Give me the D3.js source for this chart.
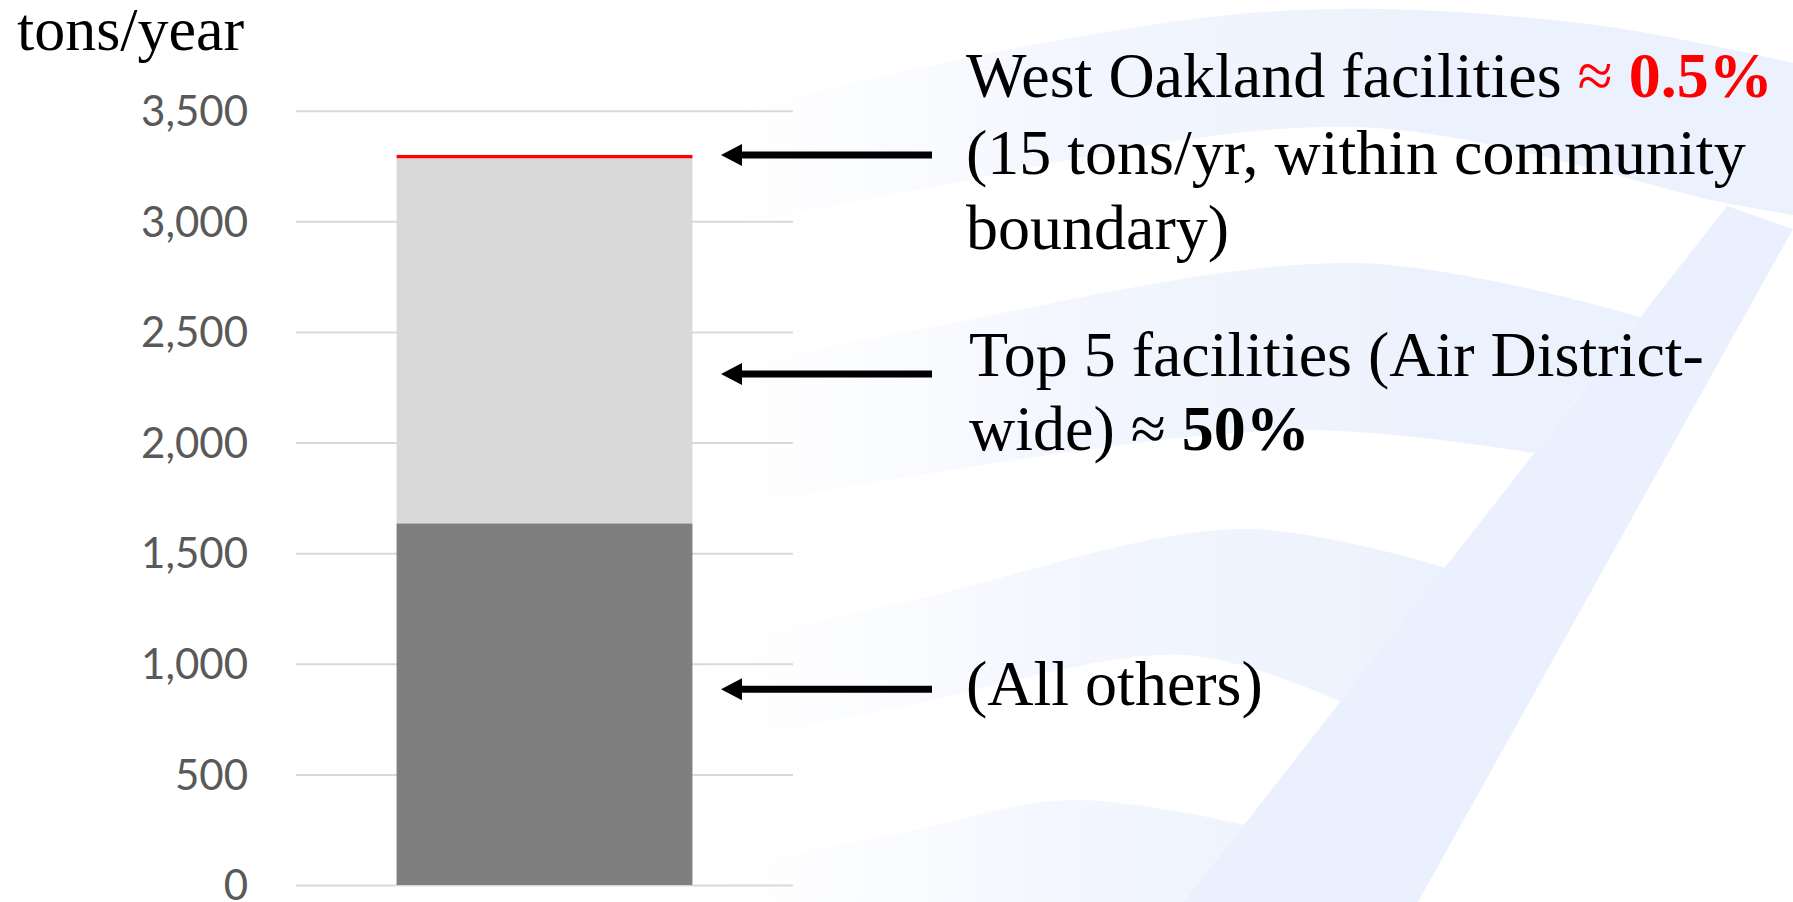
<!DOCTYPE html>
<html>
<head>
<meta charset="utf-8">
<script src="https://cdn.jsdelivr.net/npm/d3@7"></script>
<style>
  html, body { margin: 0; padding: 0; background: #ffffff; }
  svg { display: block; }
</style>
</head>
<body>
<svg id="chart" width="1793" height="902"></svg>
<script>
// ---------------- data ----------------
const segmentNames  = ["All others", "Top 5 facilities", "West Oakland facilities"];
const segmentValues = [1635, 1650, 15];          // tons/year, stacked bottom -> top
const segmentColors = ["#7f7f7f", "#d9d9d9", "#ff0000"];
const tickValues    = [0, 500, 1000, 1500, 2000, 2500, 3000, 3500];
const yUnit         = "tons/year";
const arrowTargets  = [3300, 2310, 885];         // value level each arrow points at

// ---------------- layout ----------------
const W = 1793, H = 902;
const plot = { left: 296, right: 793, top: 110.7, bottom: 885 };
const svg = d3.select("#chart");

// ---------------- background watermark (decoration) ----------------
const defs = svg.append("defs");
const grad = defs.append("linearGradient").attr("id", "fade")
  .attr("gradientUnits", "userSpaceOnUse").attr("x1", 620).attr("x2", 1500).attr("y1", 0).attr("y2", 0);
grad.append("stop").attr("offset", 0).attr("stop-color", "#ffffff").attr("stop-opacity", 0);
grad.append("stop").attr("offset", 0.5).attr("stop-color", "#f3f6fe");
grad.append("stop").attr("offset", 1).attr("stop-color", "#ebf1fd");

const bg = svg.append("g").attr("class", "bg");
const curve = d3.line().curve(d3.curveCatmullRom.alpha(0.5));
function band(top, bottom) {
  const a = curve(top);
  const b = curve(bottom.slice().reverse());
  return a + "L" + b.slice(1) + "Z";
}
const bands = [
  [[[620,150],[788,98],[1263,12],[1580,23],[1793,63]], [[620,250],[900,193],[1356,127],[1726,203],[1793,215]]],
  [[[620,390],[900,333],[1356,263],[1640,317]], [[620,530],[900,478],[1300,430],[1534,453]]],
  [[[620,665],[900,603],[1242,529],[1446,568]], [[620,765],[900,707],[1185,655],[1342,702]]],
  [[[620,885],[900,833],[1071,800],[1246,825]], [[620,905],[1246,905]]]
];
bands.forEach(b => bg.append("path").attr("d", band(b[0], b[1])).attr("fill", "url(#fade)"));
bg.append("path")
  .attr("d", "M1727,206L1793,229L1418,902L1184,902Z")
  .attr("fill", "#eaf0fd");

// ---------------- scales ----------------
const y = d3.scaleLinear().domain([0, 3500]).range([plot.bottom, plot.top]);
const x = d3.scaleBand().domain(["total"]).range([plot.left, plot.right]).paddingInner(0).paddingOuter(0.34);

// gridlines
const yAxis = d3.axisLeft(y).tickValues(tickValues).tickSize(-(plot.right - plot.left)).tickFormat(d3.format(","));
const ax = svg.append("g").attr("transform", `translate(${plot.left},0)`).call(yAxis);
ax.select(".domain").remove();
ax.selectAll(".tick line").attr("stroke", "#d9d9d9").attr("stroke-width", 2);
ax.selectAll(".tick text")
  .attr("x", -48)
  .attr("dy", "0.35em")
  .attr("fill", "#595959")
  .style("font-family", "Lato, 'Open Sans', sans-serif")
  .style("font-size", "42px");

// stacked bar
const stackData = [Object.fromEntries(segmentNames.map((n, i) => [n, segmentValues[i]]))];
const series = d3.stack().keys(segmentNames)(stackData);
svg.append("g").selectAll("rect").data(series).join("rect")
  .attr("x", x("total"))
  .attr("width", x.bandwidth())
  .attr("y", d => y(d[0][1]))
  .attr("height", d => y(d[0][0]) - y(d[0][1]))
  .attr("fill", (d, i) => segmentColors[i]);

// unit label
svg.append("text").attr("x", 17).attr("y", 50)
  .style("font-family", "'Liberation Serif', 'Times New Roman', serif")
  .style("font-size", "62px").attr("fill", "#000").text(yUnit);

// arrows
const arrowStart = 932, arrowTip = 721, headLen = 21, headHalf = 11;
const arrows = svg.append("g");
arrowTargets.forEach(v => {
  const yy = y(v);
  arrows.append("line").attr("x1", arrowStart).attr("x2", arrowTip + headLen - 1)
    .attr("y1", yy).attr("y2", yy).attr("stroke", "#000").attr("stroke-width", 7);
  arrows.append("path")
    .attr("d", `M${arrowTip},${yy}L${arrowTip + headLen},${yy - headHalf}L${arrowTip + headLen},${yy + headHalf}Z`)
    .attr("fill", "#000");
});

// annotation texts
const serif = "'Liberation Serif', 'Times New Roman', serif";
const textX = 966;
const ann = svg.append("g").style("font-family", serif).style("font-size", "64px").attr("fill", "#000");

const l1 = ann.append("text").attr("x", textX).attr("y", 97);
l1.append("tspan").text("West Oakland facilities ");
l1.append("tspan").attr("fill", "#ff0000").text("\u2248 ");
l1.append("tspan").attr("fill", "#ff0000").attr("font-weight", "bold").text("0.5%");

ann.append("text").attr("x", textX).attr("y", 174).text("(15 tons/yr, within community");
ann.append("text").attr("x", textX).attr("y", 249).text("boundary)");

ann.append("text").attr("x", textX + 3).attr("y", 376).text("Top 5 facilities (Air District-");
const l5 = ann.append("text").attr("x", textX + 3).attr("y", 450);
l5.append("tspan").text("wide) \u2248 ");
l5.append("tspan").attr("font-weight", "bold").text("50%");

ann.append("text").attr("x", textX).attr("y", 705).text("(All others)");
</script>
</body>
</html>
